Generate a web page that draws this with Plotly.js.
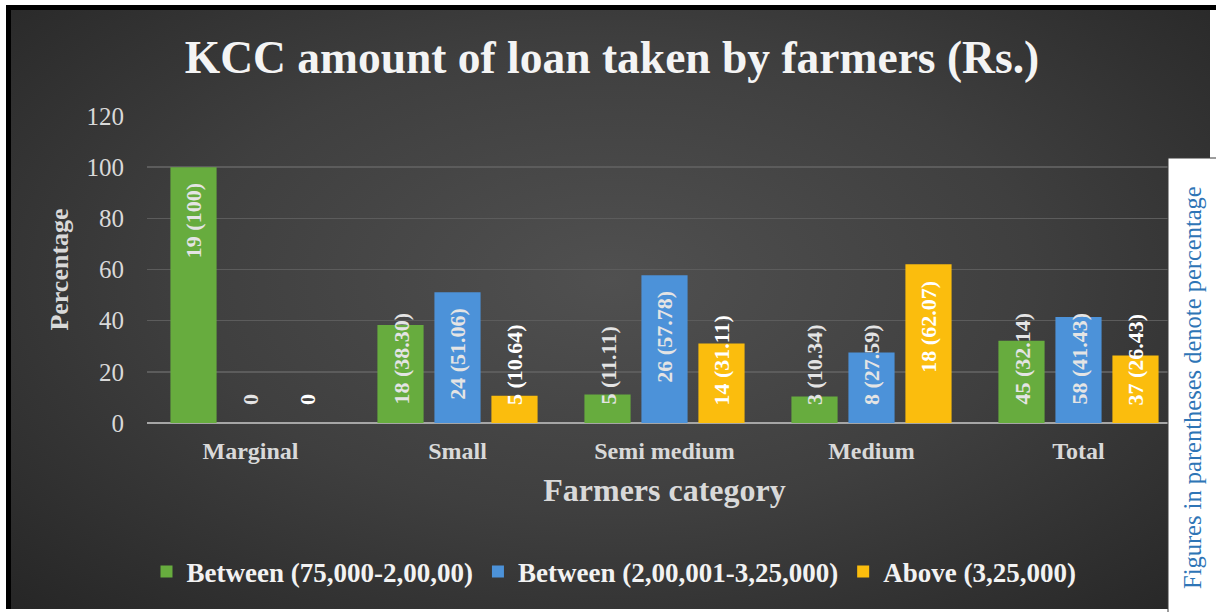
<!DOCTYPE html>
<html><head><meta charset="utf-8">
<script src="https://cdn.plot.ly/plotly-3.0.1.min.js"></script>
<style>
html,body{margin:0;padding:0;background:#fff;}
#topline{position:absolute;left:6px;top:5px;width:1210px;height:5px;background:#000;}
#bg{position:absolute;left:6px;top:5px;width:1199px;height:599px;border-left:5px solid #000;border-top:5px solid #000;
  background:radial-gradient(ellipse at 50% 45%, #505050 0%, #3f3f3f 50%, #262626 100%);}
#chart{position:absolute;left:0;top:0;width:1216px;height:612px;}
</style></head>
<body>
<div id="topline"></div>
<div id="bg"></div>
<div id="chart"></div>
<script>
const categories = ['Marginal', 'Small', 'Semi medium', 'Medium', 'Total'];
const seriesNames = ['Between (75,000-2,00,00)', 'Between (2,00,001-3,25,000)', 'Above (3,25,000)'];
const pct75to200 = [100, 38.30, 11.11, 10.34, 32.14];
const pct200to325 = [0, 51.06, 57.78, 27.59, 41.43];
const pctAbove325 = [0, 10.64, 31.11, 62.07, 26.43];
const cnt75to200 = [19, 18, 5, 3, 45];
const cnt200to325 = [0, 24, 26, 8, 58];
const cntAbove325 = [0, 5, 14, 18, 37];
const yTicks = [0, 20, 40, 60, 80, 100, 120];

const FONT = '"Liberation Serif", "Times New Roman", serif';
const colors = ['#67ac3e', '#4c92d9', '#fbbd0d'];
const labelColors = ['#e4e4e4', '#e4e4e4', '#ffffff'];
const pcts = [pct75to200, pct200to325, pctAbove325];
const cnts = [cnt75to200, cnt200to325, cntAbove325];

const W = 1216, H = 612;
const M = {l: 147, r: 34, t: 116, b: 189};
const plotW = W - M.l - M.r, plotH = H - M.t - M.b;
const yMax = 120;
const bargap = 0.174, bargroupgap = 0.19;
const labelSize = 22;

function fmt(c, p) {
  if (c === 0) return '0';
  const ps = Number.isInteger(p) ? String(p) : p.toFixed(2);
  return c + ' (' + ps + ')';
}

const ctx = document.createElement('canvas').getContext('2d');
ctx.font = 'bold ' + labelSize + 'px ' + FONT;

const traces = pcts.map((vals, i) => ({
  type: 'bar', x: categories, y: vals, name: seriesNames[i],
  marker: {color: colors[i]}, hoverinfo: 'skip'
}));

const pxPerUnit = plotH / yMax;
const slot = (plotW / categories.length) * (1 - bargap) / pcts.length;
const padTop = 14, padBase = 16;
const annotations = [];
pcts.forEach((vals, i) => {
  vals.forEach((v, j) => {
    const txt = fmt(cnts[i][j], v);
    const len = ctx.measureText(txt).width;
    const fitsTop = v * pxPerUnit - padTop - len >= padBase;
    annotations.push({
      x: categories[j], xref: 'x', xshift: (i - 1) * slot,
      y: fitsTop ? v : 0, yref: 'y',
      yanchor: fitsTop ? 'top' : 'bottom', xanchor: 'center',
      yshift: fitsTop ? -padTop : padBase,
      text: txt, textangle: -90, showarrow: false,
      font: {family: FONT, size: labelSize, color: labelColors[i], weight: 'bold'}
    });
  });
});

// note box on right
annotations.push({
  xref: 'paper', yref: 'paper',
  x: (1192 - M.l) / plotW, y: (H - M.b - 388) / plotH,
  xanchor: 'center', yanchor: 'middle',
  text: 'Figures in parentheses denote percentage', textangle: -90, showarrow: false,
  font: {family: FONT, size: 24.5, color: '#2e75b6'}
});

const shapes = [{
  type: 'rect', xref: 'paper', yref: 'paper', layer: 'above',
  x0: (1168 - M.l) / plotW, x1: (1222 - M.l) / plotW,
  y0: (H - M.b - 620) / plotH, y1: (H - M.b - 158) / plotH,
  fillcolor: '#ffffff', line: {color: '#3a3a3a', width: 1}
}];

const layout = {
  width: W, height: H, margin: M,
  paper_bgcolor: 'rgba(0,0,0,0)', plot_bgcolor: 'rgba(0,0,0,0)',
  barmode: 'group', bargap: bargap, bargroupgap: bargroupgap,
  title: {text: 'KCC amount of loan taken by farmers (Rs.)',
    x: 612 / W, xref: 'container', xanchor: 'center',
    y: 1 - 57 / H, yref: 'container', yanchor: 'middle',
    font: {family: FONT, size: 45.5, color: '#f4f4f4', weight: 'bold'}},
  xaxis: {type: 'category', showgrid: false, showline: false, ticks: '',
    tickfont: {family: FONT, size: 24, color: '#d9d9d9', weight: 'bold'},
    ticklabelstandoff: 11,
    title: {text: 'Farmers category', standoff: 15,
      font: {family: FONT, size: 32, color: '#d9d9d9', weight: 'bold'}}},
  yaxis: {range: [0, yMax], tickvals: yTicks, ticktext: yTicks.map(String),
    showgrid: true, gridcolor: '#5c5c5c', gridwidth: 1.5,
    zeroline: true, zerolinecolor: '#a6a6a6', zerolinewidth: 2,
    showline: false, ticks: '',
    tickfont: {family: FONT, size: 25, color: '#d9d9d9'},
    ticklabelstandoff: 22,
    title: {text: 'Percentage', standoff: 10,
      font: {family: FONT, size: 26, color: '#d9d9d9', weight: 'bold'}}},
  showlegend: true,
  legend: {orientation: 'h', x: (614 - M.l) / plotW, xanchor: 'center',
    y: (H - M.b - 572) / plotH, yanchor: 'middle',
    bgcolor: 'rgba(0,0,0,0)',
    font: {family: FONT, size: 27, color: '#f2f2f2', weight: 'bold'}},
  annotations: annotations, shapes: shapes
};

Plotly.newPlot('chart', traces, layout, {displayModeBar: false, staticPlot: true});
</script>
</body></html>
